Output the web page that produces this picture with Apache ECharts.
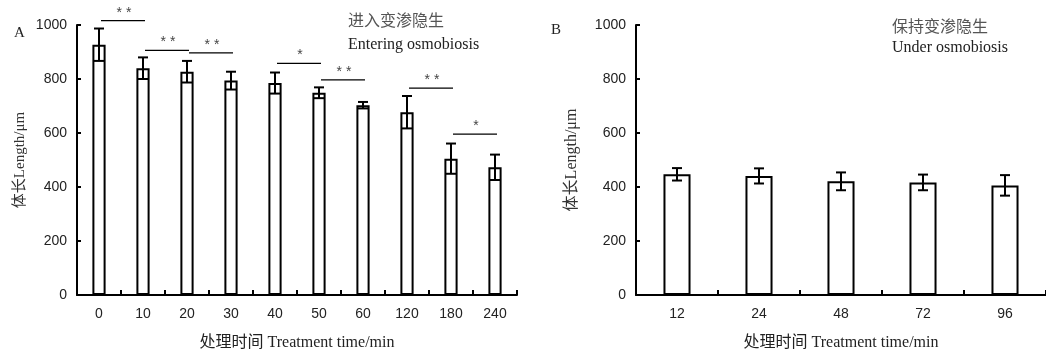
<!DOCTYPE html>
<html>
<head>
<meta charset="utf-8">
<script src="https://cdn.jsdelivr.net/npm/echarts@6/dist/echarts.min.js"></script>
<style>html,body{margin:0;padding:0;background:#fff}#c{width:1046px;height:356px}</style>
</head>
<body>
<div id="c"></div>
<script>
// Panel A data
const catsA = ['0','10','20','30','40','50','60','120','180','240'];
const meanA = [927, 840, 827, 794, 785, 749, 703, 677, 505, 473];
const errA  = [60, 40, 40, 33, 39, 20, 12, 60, 56, 47];
// significance brackets: [fromIndex, toIndex, yValue, label]
const sigA = [
  [0, 1, 1016, '**'],
  [1, 2, 906, '**'],
  [2, 3, 897, '**'],
  [4, 5, 858, '*'],
  [5, 6, 797, '**'],
  [7, 8, 766, '**'],
  [8, 9, 596, '*']
];
// Panel B data
const catsB = ['12','24','48','72','96'];
const meanB = [447, 441, 421, 417, 406];
const errB  = [23, 28, 33, 29, 38];

const serif = '"Liberation Serif","Noto Sans CJK SC",serif';
const sans = '"Liberation Sans",Arial,sans-serif';

function errRender(params, api) {
  const x = api.value(0), m = api.value(1), e = api.value(2);
  const t = api.coord([x, m + e]);
  const b = api.coord([x, m - e]);
  const hw = 5;
  const st = {stroke: '#000', lineWidth: 2};
  return {type: 'group', children: [
    {type: 'line', shape: {x1: t[0], y1: t[1], x2: b[0], y2: b[1]}, style: st},
    {type: 'line', shape: {x1: t[0]-hw, y1: t[1], x2: t[0]+hw, y2: t[1]}, style: st},
    {type: 'line', shape: {x1: b[0]-hw, y1: b[1], x2: b[0]+hw, y2: b[1]}, style: st}
  ]};
}
function sigRender(params, api) {
  const i = api.value(0), j = api.value(1), y = api.value(2);
  const lab = sigA[params.dataIndex][3];
  const p1 = api.coord([i, y]);
  const p2 = api.coord([j, y]);
  return {type: 'group', children: [
    {type: 'line', shape: {x1: p1[0]+2, y1: p1[1], x2: p2[0]+2, y2: p2[1]}, style: {stroke: '#000', lineWidth: 1.3}},
    {type: 'text', style: {x: (p1[0]+p2[0])/2 + 3, y: p1[1] - 8, text: lab.split('').join(' '), fill: '#444',
      font: '14px ' + sans, textAlign: 'center', textVerticalAlign: 'middle'}}
  ]};
}

const yAxisCommon = {
  type: 'value', min: 0, max: 1000, interval: 200,
  axisLine: {show: true, lineStyle: {color: '#000', width: 2}},
  axisTick: {show: true, inside: true, length: 4, lineStyle: {color: '#000', width: 2}},
  splitLine: {show: false},
  axisLabel: {color: '#222', fontSize: 14, fontFamily: sans, margin: 10, formatter: v => String(v)},
  name: '体长Length/μm', nameLocation: 'middle', nameRotate: 90,
  nameTextStyle: {color: '#333', fontSize: 15, fontFamily: serif}
};
const xAxisCommon = {
  type: 'category',
  axisLine: {show: true, lineStyle: {color: '#000', width: 2}},
  axisTick: {show: true, inside: true, length: 5, alignWithLabel: false, lineStyle: {color: '#000', width: 2}},
  axisLabel: {color: '#222', fontSize: 14, fontFamily: sans, margin: 12},
  name: '处理时间 Treatment time/min', nameLocation: 'middle', nameGap: 40,
  nameTextStyle: {color: '#222', fontSize: 16, fontFamily: serif}
};

const chart = echarts.init(document.getElementById('c'));
chart.setOption({
  animation: false,
  backgroundColor: '#fff',
  grid: [
    {left: 77, top: 25, width: 440, height: 275},
    {left: 636, top: 25, width: 412, height: 276}
  ],
  xAxis: [
    Object.assign({}, xAxisCommon, {gridIndex: 0, data: catsA}),
    Object.assign({}, xAxisCommon, {gridIndex: 1, data: catsB})
  ],
  yAxis: [
    Object.assign({}, yAxisCommon, {gridIndex: 0, nameGap: 49}),
    Object.assign({}, yAxisCommon, {gridIndex: 1, nameGap: 56, nameTextStyle: {color: '#333', fontSize: 16, fontFamily: serif}})
  ],
  graphic: [
    {type: 'text', left: 14, top: 26, style: {text: 'A', font: '15px ' + serif, fill: '#222'}},
    {type: 'text', left: 551, top: 23, style: {text: 'B', font: '15px ' + serif, fill: '#222'}},
    {type: 'text', left: 348, top: 14, style: {text: '进入变渗隐生', font: '16px ' + serif, fill: '#555'}},
    {type: 'text', left: 348, top: 37, style: {text: 'Entering osmobiosis', font: '16px ' + serif, fill: '#222'}},
    {type: 'text', left: 892, top: 20, style: {text: '保持变渗隐生', font: '16px ' + serif, fill: '#555'}},
    {type: 'text', left: 892, top: 40, style: {text: 'Under osmobiosis', font: '16px ' + serif, fill: '#222'}}
  ],
  series: [
    {type: 'bar', xAxisIndex: 0, yAxisIndex: 0, data: meanA, barWidth: '30%',
     itemStyle: {color: '#fff', borderColor: '#000', borderWidth: 2}},
    {type: 'custom', xAxisIndex: 0, yAxisIndex: 0, renderItem: errRender, z: 5,
     data: meanA.map((m, i) => [i, m, errA[i]])},
    {type: 'custom', xAxisIndex: 0, yAxisIndex: 0, renderItem: sigRender, z: 5, clip: false,
     data: sigA.map(s => [s[0], s[1], s[2]])},
    {type: 'bar', xAxisIndex: 1, yAxisIndex: 1, data: meanB, barWidth: '33%',
     itemStyle: {color: '#fff', borderColor: '#000', borderWidth: 2}},
    {type: 'custom', xAxisIndex: 1, yAxisIndex: 1, renderItem: errRender, z: 5,
     data: meanB.map((m, i) => [i, m, errB[i]])}
  ]
});
</script>
</body>
</html>
